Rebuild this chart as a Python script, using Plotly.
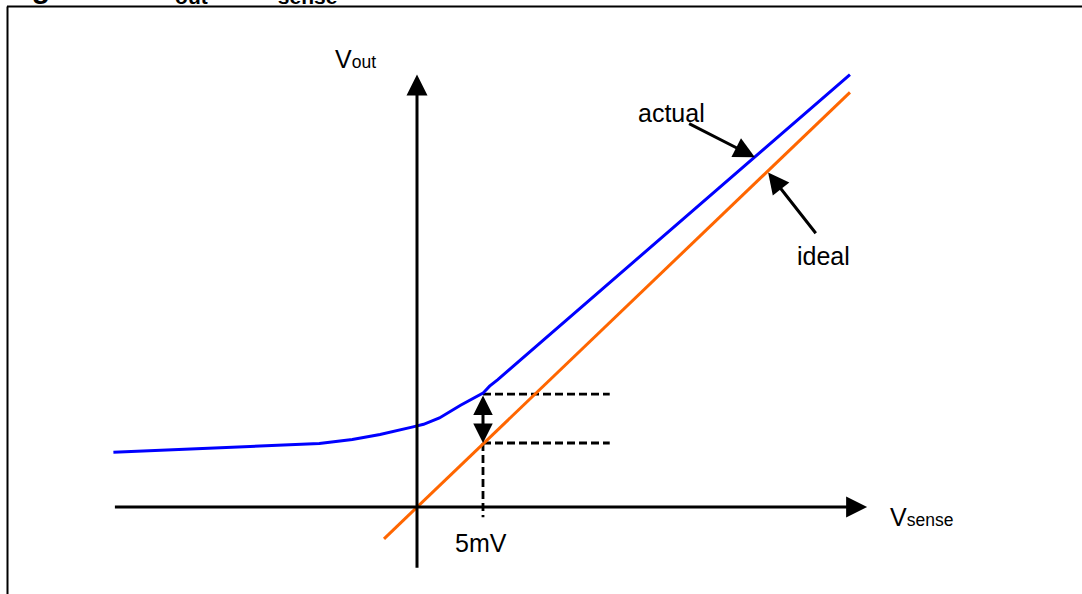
import plotly.graph_objects as go

# ---- data (Vsense in mV, Vout in arbitrary units scaled so ideal gain = 1) ----
actual_vsense = [-23.0, -16.4, -12.9, -9.6, -7.4, -4.9, -2.8, -0.3, 0.5, 1.7, 3.3, 5.0, 5.5, 6.1, 32.8]
actual_vout = [4.3, 4.6, 4.7, 4.9, 5.0, 5.3, 5.7, 6.3, 6.5, 7.0, 8.0, 8.95, 9.5, 10.0, 34.0]
ideal_vsense = [-2.5, 32.8]
ideal_vout = [-2.5, 32.6]

marker_vsense = 5.0            # the "5mV" point
marker_actual = 8.88           # actual Vout at 5 mV
marker_ideal = 5.03            # ideal Vout at 5 mV
dash_end = 14.6

x_axis_span = [-23.0, 34.1]
y_axis_span = [-4.9, 34.0]

FONT = "Arial, Liberation Sans, sans-serif"
W, H = 1082, 594
X0, XPX, Y0, YPX = 417.0, 13.2, 507.0, 12.72

fig = go.Figure()

dash_style = dict(color="black", width=2.8, dash="8px,4px")
# dashed guide lines
fig.add_trace(go.Scatter(x=[marker_vsense, dash_end], y=[marker_actual, marker_actual], mode="lines",
                         line=dash_style, hoverinfo="skip"))
fig.add_trace(go.Scatter(x=[marker_vsense, dash_end], y=[marker_ideal, marker_ideal], mode="lines",
                         line=dash_style, hoverinfo="skip"))
fig.add_trace(go.Scatter(x=[marker_vsense, marker_vsense], y=[marker_ideal, -0.8], mode="lines",
                         line=dash_style, hoverinfo="skip"))

# curves
fig.add_trace(go.Scatter(x=ideal_vsense, y=ideal_vout, mode="lines",
                         line=dict(color="#FF6600", width=3), name="ideal"))
fig.add_trace(go.Scatter(x=actual_vsense, y=actual_vout, mode="lines",
                         line=dict(color="#0000FF", width=3), name="actual"))

def arrow(x, y, ax, ay, side="end", width=3, size=1.3):
    fig.add_annotation(x=x, y=y, ax=ax, ay=ay, xref="x", yref="y", axref="x", ayref="y",
                       text="", showarrow=True, arrowhead=2, arrowsize=size, arrowwidth=width,
                       arrowcolor="black", arrowside=side, standoff=0, startstandoff=0)

# axes
arrow(x_axis_span[1], 0, x_axis_span[0], 0, size=1.4)
arrow(0, y_axis_span[1], 0, y_axis_span[0], size=1.4)
# double arrow at 5mV
arrow(marker_vsense, marker_ideal, marker_vsense, marker_actual, side="end+start", size=1.3)
# label pointers
arrow(25.6, 27.5, 20.5, 30.2, size=1.4)
arrow(26.6, 26.3, 30.3, 21.4, size=1.4)

def label(x, y, text, xanchor="center", size=25):
    fig.add_annotation(x=x, y=y, xref="x", yref="y", text=text, showarrow=False,
                       xanchor=xanchor, yanchor="middle", font=dict(family=FONT, size=size, color="black"))

label(-6.36, 35.25, "V<span style='font-size:17.5px'>out</span>", xanchor="left")
label(35.7, -0.8, "V<span style='font-size:17.5px'>sense</span>", xanchor="left")
label(4.85, -2.83, "5mV")
label(19.3, 31.0, "actual")
label(30.76, 19.7, "ideal")

# clipped title at the top
fig.add_annotation(x=3 / W, y=1, xref="paper", yref="paper", xanchor="left", yanchor="bottom",
                   yshift=-10.5, showarrow=False,
                   text="<b>Figure 12. V<sub>out</sub> vs V<sub>sense</sub></b>",
                   font=dict(family=FONT, size=30, color="black"))

# frame
fig.add_shape(type="line", xref="paper", yref="paper", x0=7 / W, x1=1, y0=1 - 6.5 / H, y1=1 - 6.5 / H,
              line=dict(color="black", width=2))
fig.add_shape(type="line", xref="paper", yref="paper", x0=7.5 / W, x1=7.5 / W, y0=0, y1=1 - 6.5 / H,
              line=dict(color="black", width=2))

fig.update_layout(
    width=W, height=H, margin=dict(l=0, r=0, t=0, b=0),
    paper_bgcolor="white", plot_bgcolor="white", showlegend=False,
    xaxis=dict(range=[(0 - X0) / XPX, (W - X0) / XPX], visible=False, fixedrange=True),
    yaxis=dict(range=[(Y0 - H) / YPX, Y0 / YPX], visible=False, fixedrange=True),
)

fig.write_html("out.html", config={"displayModeBar": False},
               post_script="document.body.style.margin='0px';document.body.style.overflow='hidden';")
